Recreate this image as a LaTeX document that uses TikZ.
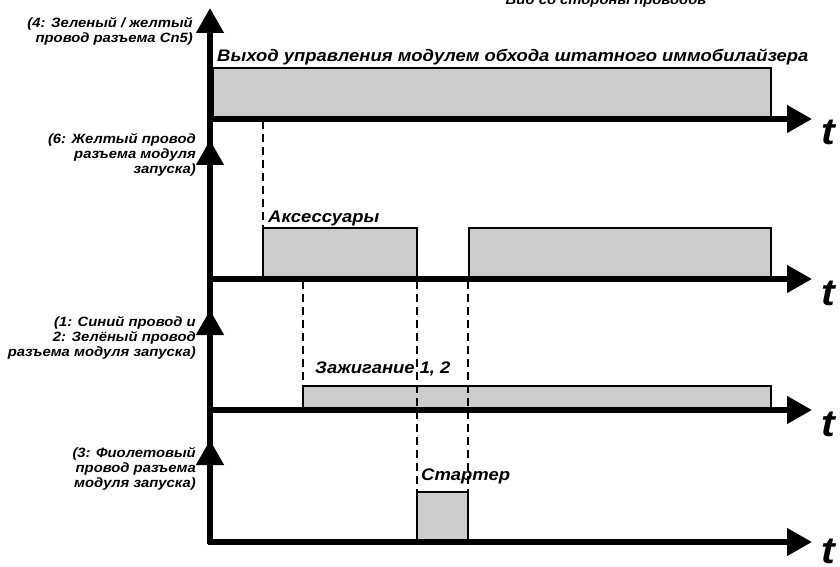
\documentclass[tikz,border=0pt]{standalone}
\usepackage{fontspec}
\setmainfont{Liberation Sans}[FakeStretch=1.1]
\usetikzlibrary{arrows.meta}

\begin{document}
\begin{tikzpicture}[x=0.03cm,y=-0.03cm,
  spine/.style={line width=4.8pt},
  axis/.style={line width=4.8pt,-{Triangle[length=0.75cm,width=0.8cm]}},
  pulse/.style={draw=black,fill=black!20,line width=1pt},
  sync/.style={line width=1.2pt,dash pattern=on 6.8pt off 4.3pt},
  wire/.style={font=\fontsize{11.5}{12.8}\selectfont\bfseries\itshape,align=right,anchor=north east,inner sep=0pt},
  signame/.style={font=\fontsize{14.3}{17}\selectfont\bfseries\itshape,anchor=base west,inner sep=0pt},
  tname/.style={font=\fontsize{32}{32}\selectfont\bfseries\itshape,anchor=base west,inner sep=0pt}]
\useasboundingbox (0,0) rectangle (840,567);
% caption cut by the frame
\node[font=\fontsize{11.5}{14}\selectfont\bfseries\itshape,anchor=base,inner sep=0pt] (view) at (606,5) {Вид со стороны проводов};

% pulses
\draw[pulse] (213,119) rectangle (771,68);
\draw[pulse] (263,279) rectangle (417,228);
\draw[pulse] (469,279) rectangle (771,228);
\draw[pulse] (303,410) rectangle (771,386);
\draw[pulse] (417,542) rectangle (468,492);

% sync lines
\draw[sync] (263,121) -- (263,228);
\draw[sync] (303,281) -- (303,386);
\draw[sync] (417,281) -- (417,492);
\draw[sync] (468,281) -- (468,492);

% axes
\draw[spine] (210,544.4) -- (210,30);
\foreach \tip in {8,140,310,440}
  \draw[axis] (210,\tip+26) -- (210,\tip);
\foreach \y/\b in {119/145,279/305,410/436,542/563} {
  \draw[axis] (207.6,\y) -- (812,\y);
  \node[tname] (t\y) at (821,\b) {t};
}

% signal names
\node[signame] (bypass) at (217,62) {Выход управления модулем обхода штатного иммобилайзера};
\node[signame] (acc) at (268,223) {Аксессуары};
\node[signame] (ign) at (315,373) {Зажигание 1, 2};
\node[signame] (start) at (421,480) {Стартер};

% wires
\node[wire] (w4) at (193,17) {(4: Зеленый / желтый\\провод разъема Cn5)};
\node[wire] (w6) at (196,133) {(6: Желтый провод\\разъема модуля\\запуска)};
\node[wire] (w12) at (196,316) {(1: Синий провод и\\2: Зелёный провод\hspace*{4pt}\\разъема модуля запуска)};
\node[wire] (w3) at (196,447) {(3: Фиолетовый\\провод разъема\\модуля запуска)};
\end{tikzpicture}
\end{document}
